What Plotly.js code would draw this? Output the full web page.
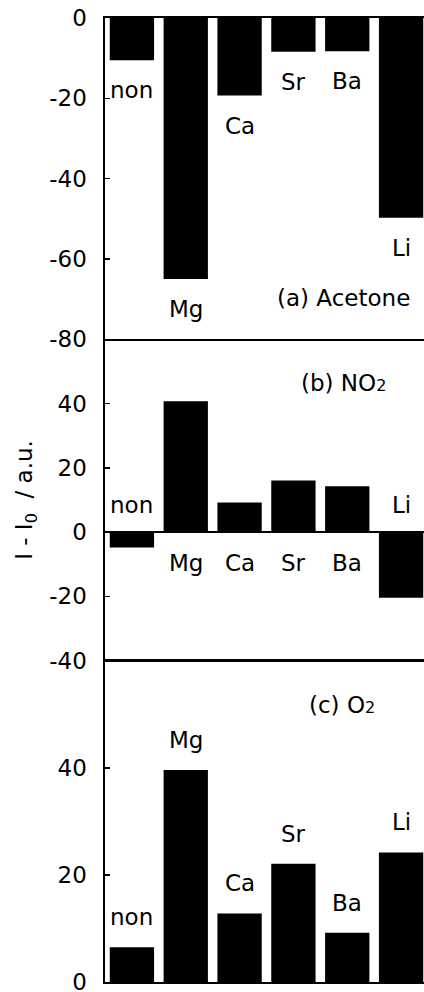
<!DOCTYPE html>
<html>
<head>
<meta charset="utf-8">
<script src="https://cdn.plot.ly/plotly-3.0.1.min.js"></script>
<style>
html,body{margin:0;padding:0;overflow:hidden;background:#fff;}
#chart{width:430px;height:992px;}
</style>
</head>
<body>
<div id="chart"></div>
<script>
const categories = ["non", "Mg", "Ca", "Sr", "Ba", "Li"];
const acetone = [-10.5, -65.0, -19.3, -8.4, -8.3, -49.7];
const no2 = [-4.8, 40.7, 9.2, 16.1, 14.3, -20.4];
const o2 = [6.5, 39.6, 12.8, 22.1, 9.2, 24.2];
const panelTitles = ["(a) Acetone", "(b) NO<span style=\"font-size:16px\">2</span>", "(c) O<span style=\"font-size:16px\">2</span>"];
const yTicksA = [-80, -60, -40, -20, 0];
const yTicksB = [-40, -20, 0, 20, 40];
const yTicksC = [0, 20, 40];
const yTitle = "I - I<sub>0</sub>  / a.u.";

const FONT = "DejaVu Sans, Arial, sans-serif";
const FS = 23;

function barTrace(vals, xa, ya) {
  return {type: "bar", x: categories, y: vals, xaxis: xa, yaxis: ya,
    marker: {color: "#000", line: {width: 0}}, hoverinfo: "none", showlegend: false};
}

const traces = [barTrace(acetone, "x", "y"), barTrace(no2, "x2", "y2"), barTrace(o2, "x3", "y3")];

const annotations = [];
categories.forEach((c, i) => {
  annotations.push({xref: "x", yref: "y", x: c, y: acetone[i], text: c, showarrow: false,
    yanchor: "middle", yshift: -30, font: {size: FS, color: "#000", family: FONT}});
  annotations.push({xref: "x2", yref: "y2", x: c, y: 0, text: c, showarrow: false,
    yanchor: "middle", yshift: no2[i] > 0 ? -31 : 27, font: {size: FS, color: "#000", family: FONT}});
  annotations.push({xref: "x3", yref: "y3", x: c, y: o2[i], text: c, showarrow: false,
    yanchor: "middle", yshift: 30, font: {size: FS, color: "#000", family: FONT}});
});
annotations.push({xref: "x domain", yref: "y domain", x: 0.737, y: 0.128, text: panelTitles[0], showarrow: false,
  xanchor: "center", yanchor: "middle", font: {size: FS, color: "#000", family: FONT}});
annotations.push({xref: "x2 domain", yref: "y2 domain", x: 0.737, y: 0.863, text: panelTitles[1], showarrow: false,
  xanchor: "center", yanchor: "middle", font: {size: FS, color: "#000", family: FONT}});
annotations.push({xref: "x3 domain", yref: "y3 domain", x: 0.734, y: 0.863, text: panelTitles[2], showarrow: false,
  xanchor: "center", yanchor: "middle", font: {size: FS, color: "#000", family: FONT}});
annotations.push({xref: "paper", yref: "y2 domain", x: -0.245, y: 0.5, text: yTitle, showarrow: false,
  textangle: -90, xanchor: "center", yanchor: "middle", font: {size: FS, color: "#000", family: FONT}});

function xAx(anchor, mir) {
  return {domain: [0, 1], anchor: anchor, type: "category", categoryorder: "array", categoryarray: categories,
    range: [-0.5, 5.5], showline: true, mirror: mir, linecolor: "#000", linewidth: 1.6,
    showticklabels: false, ticks: "", showgrid: false, zeroline: false, fixedrange: true};
}
function yAx(anchor, dom, rng, tv, zl) {
  return {domain: dom, anchor: anchor, range: rng, tickvals: tv, ticktext: tv.map(String),
    showline: true, linecolor: "#000", linewidth: 1.6, ticks: "inside", ticklen: 5, tickwidth: 1.5, tickcolor: "#000",
    showgrid: false, zeroline: zl, zerolinecolor: "#000", zerolinewidth: 1.6,
    ticklabelstandoff: 12, ticklabeloverflow: "allow",
    tickfont: {size: FS, color: "#000", family: FONT}, fixedrange: true};
}

const layout = {
  width: 430, height: 992,
  margin: {l: 105, r: 2, t: 18, b: 10},
  paper_bgcolor: "#fff", plot_bgcolor: "#fff",
  font: {family: FONT, color: "#000", size: FS},
  bargap: 0.177,
  xaxis: xAx("y", true), xaxis2: xAx("y2", false), xaxis3: xAx("y3", true),
  yaxis: yAx("x", [2/3, 1], [-80, 0], yTicksA, false),
  yaxis2: yAx("x2", [1/3, 2/3], [-40, 60], yTicksB, true),
  yaxis3: yAx("x3", [0, 1/3], [0, 60], yTicksC, false),
  annotations: annotations,
  showlegend: false
};

Plotly.newPlot("chart", traces, layout, {staticPlot: true, displayModeBar: false});
</script>
</body>
</html>
